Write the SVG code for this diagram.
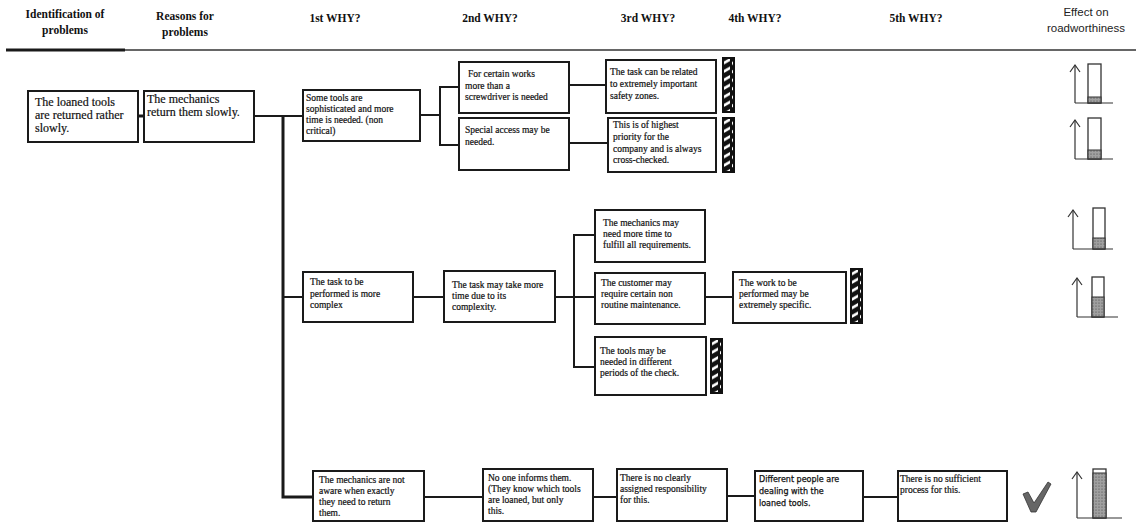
<svg xmlns="http://www.w3.org/2000/svg" width="1136" height="522" viewBox="0 0 1136 522">
  <style>
    .hdr { font-family: "Liberation Serif", "Times New Roman", serif; font-weight: bold; font-size: 11.5px; fill: #111; text-anchor: middle; }
    .hdrs { font-family: "Liberation Sans", Arial, sans-serif; font-size: 11.5px; fill: #222; text-anchor: middle; }
    .box { fill: #fff; stroke: #1a1a1a; stroke-width: 2; }
    .t { font-family: "Liberation Serif", "Times New Roman", serif; font-size: 9.5px; fill: #111; stroke: #111; stroke-width: 0.2; }
    .tl { font-family: "Liberation Serif", "Times New Roman", serif; font-size: 12px; fill: #111; stroke: #111; stroke-width: 0.2; }
    .ts { font-family: "DejaVu Sans", Verdana, sans-serif; font-size: 8px; fill: #111; stroke: #111; stroke-width: 0.25; }
    .ln { fill: none; stroke: #1a1a1a; stroke-width: 2; }
    .trunk { fill: none; stroke: #1a1a1a; stroke-width: 3; }
    .g-line { fill: none; stroke: #333; stroke-width: 1.2; }
    .g-box { fill: #fff; stroke: #333; stroke-width: 1.3; }
    .g-fill { fill: url(#stipple); stroke: #333; stroke-width: 1; }
  </style>
  <defs>
    <pattern id="stripes" patternUnits="userSpaceOnUse" width="9" height="8.5">
      <rect width="9" height="8.5" fill="#111"/>
      <polygon points="1,5 8,1 8,4 1,8" fill="#fff"/>
    </pattern>
    <pattern id="stipple" patternUnits="userSpaceOnUse" width="3" height="3">
      <rect width="3" height="3" fill="#a0a0a0"/>
      <circle cx="1" cy="1" r="0.6" fill="#444"/>
    </pattern>
    <g id="hatch">
      <rect width="13" height="56" fill="#111"/>
      <rect x="2" y="2" width="9" height="52" fill="url(#stripes)"/>
    </g>
  </defs>

  <!-- column headings -->
  <g id="header">
    <text class="hdr" x="65" y="18">Identification of</text>
    <text class="hdr" x="65" y="34">problems</text>
    <text class="hdr" x="185" y="20">Reasons for</text>
    <text class="hdr" x="185" y="36">problems</text>
    <text class="hdr" x="335" y="22">1st WHY?</text>
    <text class="hdr" x="490" y="22">2nd WHY?</text>
    <text class="hdr" x="648" y="22">3rd WHY?</text>
    <text class="hdr" x="755" y="22">4th WHY?</text>
    <text class="hdr" x="916" y="22">5th WHY?</text>
    <text class="hdrs" x="1086" y="16">Effect on</text>
    <text class="hdrs" x="1086" y="32">roadworthiness</text>
    <line x1="6" y1="50" x2="125" y2="50" stroke="#1a1a1a" stroke-width="3"/>
    <line x1="125" y1="50" x2="1136" y2="50" stroke="#333" stroke-width="1.3"/>
  </g>

  <!-- connectors -->
  <g id="connectors">
    <line class="trunk" x1="139" y1="116" x2="144" y2="116"/>
    <line class="ln" x1="254" y1="116" x2="303" y2="116" stroke-width="2.5"/>
    <polyline class="trunk" points="283,116 283,497 313,497"/>
    <line class="ln" x1="283" y1="297" x2="303" y2="297"/>
    <!-- upper branch -->
    <polyline class="ln" points="420,115 440,115"/>
    <polyline class="ln" points="459,87 440,87 440,145 459,145"/>
    <line class="ln" x1="569" y1="85" x2="606" y2="85"/>
    <line class="ln" x1="569" y1="143" x2="608" y2="143"/>
    <!-- middle branch -->
    <line class="ln" x1="413" y1="297" x2="444" y2="297"/>
    <line class="ln" x1="555" y1="297" x2="574" y2="297"/>
    <polyline class="ln" points="595,235 574,235 574,367 595,367"/>
    <line class="ln" x1="574" y1="297" x2="595" y2="297"/>
    <line class="ln" x1="705" y1="297" x2="733" y2="297"/>
    <!-- lower branch -->
    <line class="ln" x1="424" y1="497" x2="483" y2="497"/>
    <line class="ln" x1="593" y1="497" x2="617" y2="497"/>
    <line class="ln" x1="727" y1="496" x2="755" y2="496"/>
    <line class="ln" x1="863" y1="497" x2="898" y2="497"/>
  </g>

  <!-- problem and first reason -->
  <g id="n-problem">
    <rect class="box" x="28" y="91" width="110" height="51"/>
    <text class="tl" x="35" y="106">The loaned tools</text>
    <text class="tl" x="35" y="119">are returned rather</text>
    <text class="tl" x="35" y="132">slowly.</text>
  </g>
  <g id="n-reason">
    <rect class="box" x="144" y="91" width="110" height="51"/>
    <text class="tl" x="147" y="103">The mechanics</text>
    <text class="tl" x="147" y="116">return them slowly.</text>
  </g>

  <!-- upper branch -->
  <g id="n-tools-sophisticated">
    <rect class="box" x="303" y="90" width="117" height="51"/>
    <text class="t" x="306" y="101">Some tools are</text>
    <text class="t" x="306" y="112">sophisticated and more</text>
    <text class="t" x="306" y="123">time is needed. (non</text>
    <text class="t" x="306" y="134">critical)</text>
  </g>
  <g id="n-screwdriver">
    <rect class="box" x="459" y="62" width="110" height="51"/>
    <text class="t" x="468" y="77">For certain works</text>
    <text class="t" x="465" y="89">more than a</text>
    <text class="t" x="465" y="100">screwdriver is needed</text>
  </g>
  <g id="n-special-access">
    <rect class="box" x="459" y="118" width="110" height="52"/>
    <text class="t" x="465" y="133">Special access may be</text>
    <text class="t" x="465" y="145">needed.</text>
  </g>
  <g id="n-safety-zones">
    <rect class="box" x="606" y="60" width="110" height="53"/>
    <text class="t" x="610" y="75">The task can be related</text>
    <text class="t" x="610" y="87">to extremely important</text>
    <text class="t" x="610" y="99">safety zones.</text>
    <use href="#hatch" x="722" y="57"/>
  </g>
  <g id="n-highest-priority">
    <rect class="box" x="608" y="118" width="108" height="54"/>
    <text class="t" x="613" y="128">This is of highest</text>
    <text class="t" x="613" y="140">priority for the</text>
    <text class="t" x="613" y="152">company and is always</text>
    <text class="t" x="613" y="163">cross-checked.</text>
    <use href="#hatch" x="722" y="117"/>
  </g>

  <!-- middle branch -->
  <g id="n-task-complex">
    <rect class="box" x="303" y="272" width="110" height="50"/>
    <text class="t" x="310" y="285">The task to be</text>
    <text class="t" x="310" y="297">performed is more</text>
    <text class="t" x="310" y="308">complex</text>
  </g>
  <g id="n-more-time">
    <rect class="box" x="444" y="271" width="111" height="51"/>
    <text class="t" x="452" y="288">The task may take more</text>
    <text class="t" x="452" y="299">time due to its</text>
    <text class="t" x="452" y="310">complexity.</text>
  </g>
  <g id="n-requirements">
    <rect class="box" x="595" y="210" width="110" height="52"/>
    <text class="t" x="603" y="226">The mechanics may</text>
    <text class="t" x="603" y="237">need more time to</text>
    <text class="t" x="603" y="248">fulfill all requirements.</text>
  </g>
  <g id="n-customer">
    <rect class="box" x="595" y="273" width="110" height="51"/>
    <text class="t" x="601" y="286">The customer may</text>
    <text class="t" x="601" y="297">require certain non</text>
    <text class="t" x="601" y="308">routine maintenance.</text>
  </g>
  <g id="n-specific">
    <rect class="box" x="733" y="272" width="113" height="51"/>
    <text class="t" x="739" y="286">The work to be</text>
    <text class="t" x="739" y="297">performed may be</text>
    <text class="t" x="739" y="308">extremely specific.</text>
    <use href="#hatch" x="850" y="268"/>
  </g>
  <g id="n-periods">
    <rect class="box" x="595" y="337" width="111" height="58"/>
    <text class="t" x="600" y="354">The tools may be</text>
    <text class="t" x="600" y="365">needed in different</text>
    <text class="t" x="600" y="376">periods of the check.</text>
    <use href="#hatch" x="710" y="338"/>
  </g>

  <!-- lower branch -->
  <g id="n-not-aware">
    <rect class="box" x="313" y="471" width="111" height="50"/>
    <text class="t" x="319" y="483">The mechanics are not</text>
    <text class="t" x="319" y="494">aware when exactly</text>
    <text class="t" x="319" y="505">they need to return</text>
    <text class="t" x="319" y="516">them.</text>
  </g>
  <g id="n-no-one-informs">
    <rect class="box" x="483" y="469" width="110" height="52"/>
    <text class="t" x="488" y="481">No one informs them.</text>
    <text class="t" x="488" y="492">(They know which tools</text>
    <text class="t" x="488" y="503">are loaned, but only</text>
    <text class="t" x="488" y="514">this.</text>
  </g>
  <g id="n-responsibility">
    <rect class="box" x="617" y="469" width="110" height="52"/>
    <text class="t" x="620" y="481">There is no clearly</text>
    <text class="t" x="620" y="492">assigned responsibility</text>
    <text class="t" x="620" y="503">for this.</text>
  </g>
  <g id="n-different-people">
    <rect class="box" x="755" y="471" width="108" height="50"/>
    <text class="ts" x="759" y="482">Different people are</text>
    <text class="ts" x="759" y="494">dealing with the</text>
    <text class="ts" x="759" y="506">loaned tools.</text>
  </g>
  <g id="n-no-process">
    <rect class="box" x="898" y="471" width="109" height="50"/>
    <text class="t" x="900" y="482">There is no sufficient</text>
    <text class="t" x="900" y="493">process for this.</text>
  </g>

  <!-- effect gauges -->
  <g id="gauge-1" transform="translate(1075,103)">
    <polyline class="g-line" points="0,0 0,-38"/>
    <polyline class="g-line" points="-5,-31 0,-38 5,-31"/>
    <rect class="g-box" x="13" y="-39" width="13" height="39"/>
    <rect class="g-fill" x="13" y="-6" width="13" height="6"/>
    <line class="g-line" x1="0" y1="0" x2="38" y2="0"/>
  </g>
  <g id="gauge-2" transform="translate(1075,159)">
    <polyline class="g-line" points="0,0 0,-39"/>
    <polyline class="g-line" points="-5,-32 0,-39 5,-32"/>
    <rect class="g-box" x="13" y="-41" width="13" height="41"/>
    <rect class="g-fill" x="13" y="-9" width="13" height="9"/>
    <line class="g-line" x1="0" y1="0" x2="38" y2="0"/>
  </g>
  <g id="gauge-3" transform="translate(1073,249)">
    <polyline class="g-line" points="0,0 0,-39"/>
    <polyline class="g-line" points="-5,-32 0,-39 5,-32"/>
    <rect class="g-box" x="20" y="-41" width="12" height="41"/>
    <rect class="g-fill" x="20" y="-11" width="12" height="11"/>
    <line class="g-line" x1="0" y1="0" x2="40" y2="0"/>
  </g>
  <g id="gauge-4" transform="translate(1077,317)">
    <polyline class="g-line" points="0,0 0,-39"/>
    <polyline class="g-line" points="-5,-32 0,-39 5,-32"/>
    <rect class="g-box" x="15" y="-40" width="12" height="40"/>
    <rect class="g-fill" x="15" y="-20" width="12" height="20"/>
    <line class="g-line" x1="0" y1="0" x2="41" y2="0"/>
  </g>
  <g id="gauge-5" transform="translate(1077,518)">
    <polyline class="g-line" points="0,0 0,-46"/>
    <polyline class="g-line" points="-5,-39 0,-46 5,-39"/>
    <rect class="g-box" x="16" y="-49" width="13" height="49"/>
    <rect class="g-fill" x="16" y="-45" width="13" height="45"/>
    <line class="g-line" x1="0" y1="0" x2="45" y2="0"/>
  </g>

  <!-- tick mark next to the last gauge -->
  <g id="check">
    <path d="M1023,494 L1028,492 L1034,503 L1048,482 L1051,484 L1036,512 L1031,512 Z" fill="#666" stroke="#333" stroke-width="0.8"/>
  </g>
</svg>
